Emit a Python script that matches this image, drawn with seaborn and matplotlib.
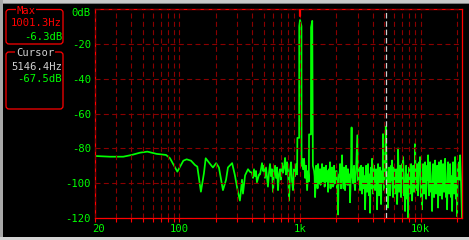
import matplotlib
matplotlib.use("Agg")
import matplotlib.pyplot as plt
import matplotlib.transforms as mtransforms
from matplotlib import font_manager
from matplotlib.patches import FancyBboxPatch, Rectangle
from matplotlib.ticker import FixedLocator, NullFormatter
import pandas as pd
import seaborn as sns

# ---------------- data ----------------
low_hz = [20, 26.6, 34.3, 40.3, 47.2, 54.3, 65, 77.6, 83.7, 96.3, 108, 115, 125, 135, 141,
          151, 160, 165.5, 180]
low_db = [-84.4, -84.8, -84.8, -83.8, -82.5, -81.9, -83.2, -83.8, -85.7, -93.4, -87.1, -86.3,
          -87.1, -89.6, -90.5, -104.9, -94.3, -85.7, -89.0]

mid_hz = [190, 202, 213, 230, 244, 253, 274, 289, 306, 318, 331, 337, 351, 371, 385, 400, 408,
          416, 424, 432, 440, 458, 467, 485, 494, 503, 513, 523, 543, 554, 565, 576, 587, 598,
          610, 622, 634, 646, 658, 671, 684, 697, 710, 724, 738, 753, 767, 782, 797, 812, 828,
          844, 860, 877, 894, 911, 929, 947]
mid_db = [-91, -88.5, -91, -104, -98, -91, -88.5, -95.5, -105, -110, -98, -106, -95.5, -92,
          -93.5, -94, -97, -92, -96, -93, -99.5, -95, -95, -88.5, -93, -90, -97, -91, -102, -94,
          -89, -96, -92, -105, -93, -90, -97, -91, -104, -95, -92, -98, -88.5, -94, -91, -85.5,
          -95, -88, -93, -110, -93, -88, -99, -104, -92, -96, -89, -95]

tone_hz = [952, 985, 987, 1001.3, 1029, 1031, 1041, 1061, 1082, 1103, 1124, 1146, 1168, 1185,
           1190, 1234, 1236, 1265, 1280, 1310, 1335, 1361, 1387, 1414, 1440, 1468]
tone_db = [-74, -74, -9.8, -6.3, -9.8, -90, -86, -92, -86, -97, -90, -104, -93, -99, -72, -72,
           -10.5, -6.8, -90, -93, -108, -90, -97, -89, -100, -92]

upper_hz = [1496, 1525, 1554, 1584, 1615, 1646, 1678, 1710, 1743, 1777, 1811, 1846, 1882, 1918,
            1955, 1993, 2031, 2070, 2110, 2150, 2192, 2234, 2277, 2321, 2366, 2411, 2458, 2505,
            2553, 2602, 2652, 2680, 2704, 2756, 2809, 2863, 2918, 2990, 3032, 3090]
upper_db = [-99, -89, -96, -91, -101, -90, -97, -105, -92, -88, -99, -91, -102, -90, -100, -93,
            -106, -118, -95, -89, -103, -84, -97, -91, -104, -90, -99, -92, -101, -111, -90, -68,
            -95, -100, -90, -104, -93, -72.5, -98, -91]

upper_fill_hz = [1323, 1348, 1374, 1400, 1427, 1454, 1482, 1511, 1540, 1569, 1600, 1630, 1662,
                 1694, 1726, 1760, 1794, 1828, 1864, 1900, 1936, 1974, 2012, 2050, 2090, 2130,
                 2171, 2213, 2256, 2299, 2343, 2389, 2435, 2481, 2529, 2578, 2628, 2730, 2782,
                 2836, 2890, 3061, 3120]
upper_fill_db = [-96, -100, -93, -103, -95, -98, -101, -94, -99, -92, -102, -96, -99, -93, -100,
                 -95, -103, -97, -94, -101, -96, -99, -93, -102, -97, -95, -100, -94, -98, -103,
                 -96, -99, -93, -101, -97, -95, -100, -97, -93, -101, -96, -99, -95]

high_hz = [3150, 3211, 3273, 3336, 3400, 3466, 3533, 3601, 3670, 3741, 3813, 3887, 3962, 4038,
           4116, 4195, 4276, 4359, 4443, 4528, 4615, 4704, 4795, 4888, 4982, 5078, 5146.4, 5276,
           5378, 5481, 5587, 5695, 5805, 5917, 6031, 6147, 6266, 6386, 6510, 6635, 6762, 6893,
           7026, 7161, 7299, 7440, 7583, 7730, 7879, 8031, 8185, 8343, 8504, 8668, 8835, 9005,
           9179, 9356, 9536, 9720, 9907, 10098, 10293, 10491, 10693, 10898, 11108, 11323,
           11541, 11764, 11990, 12221, 12457, 12697, 12942, 13190, 13445, 13704, 13968, 14237,
           14512, 14791, 15077, 15367, 15663, 15966, 16273, 16587, 16907, 17233, 17566, 17904,
           18249, 18601, 18960, 19326, 19698, 20078, 20465, 20860, 21262, 21672, 22050]
high_db = [-104, -90, -106, -91, -103, -115, -90, -105, -89, -107, -117, -91, -86, -106, -90,
           -104, -92, -115, -89, -107, -91, -112, -93, -71.8, -104, -92, -67.5, -106, -114, -91,
           -107, -90, -87, -108, -91, -106, -92, -112, -80, -105, -90, -108, -89, -85, -107,
           -116, -90, -109, -120, -91, -106, -89, -110, -90, -105, -77.5, -104, -89, -107, -88,
           -85, -108, -115, -89, -106, -88, -109, -90, -84, -107, -88, -105, -116, -89, -108,
           -87, -106, -90, -114, -88, -107, -87, -109, -89, -105, -86, -108, -115, -88, -106,
           -89, -108, -116, -88, -106, -85, -109, -119, -90, -88, -84, -100, -120]

high_fill_hz = [3180, 3242, 3304, 3368, 3433, 3499, 3567, 3635, 3705, 3777, 3850, 3924, 4000,
                4077, 4155, 4235, 4317, 4401, 4485, 4571, 4659, 4749, 4841, 4935, 5030,
                5327, 5429, 5534, 5641, 5750, 5861, 5974, 6089, 6206, 6326, 6448, 6572, 6698,
                6827, 6959, 7093, 7230, 7369, 7511, 7656, 7804, 7955, 8108, 8264, 8423, 8586,
                8751, 8920, 9092, 9267, 9446, 9628, 9813, 10002, 10195, 10392, 10592, 10796,
                11004, 11216, 11432, 11652, 11877, 12105, 12339, 12577, 12819, 13066, 13318,
                13575, 13836, 14102, 14374, 14651, 14934, 15222, 15515, 15814, 16119, 16430,
                16747, 17069, 17399, 17734, 18075, 18424, 18779, 19142, 19511, 19887, 20270,
                20661, 21059]
high_fill_db = [-97, -101, -94, -99, -96, -102, -93, -98, -100, -95, -97, -103, -94, -99, -96,
                -101, -93, -98, -102, -95, -99, -96, -100, -94, -98,
                -99, -95, -101, -94, -98, -103, -96, -100, -93, -97, -102, -95, -99, -94, -101,
                -97, -93, -100, -96, -103, -95, -98, -94, -101, -97, -99, -93, -102, -96, -98,
                -95, -100, -94, -97, -103, -96, -99, -93, -101, -95, -98, -102, -94, -97, -100,
                -96, -93, -99, -101, -95, -98, -94, -102, -97, -96, -100, -93, -99, -95, -101,
                -97, -94, -98, -103, -96, -100, -95, -99, -93, -97, -101, -96, -98]

max_freq, max_db = 1001.3, -6.3
cursor_freq, cursor_db = 5146.4, -67.5

y_ticks = [0, -20, -40, -60, -80, -100, -120]
y_labels = ["0dB", "-20", "-40", "-60", "-80", "-100", "-120"]
x_major = [20, 100, 1000, 10000]
x_labels = ["20", "100", "1k", "10k"]
x_minor = [30, 40, 50, 60, 70, 80, 90, 200, 300, 400, 500, 600, 700, 800, 900,
           2000, 3000, 4000, 5000, 6000, 7000, 8000, 9000, 20000]
f_min, f_max = 20, 22050

# ---------------- style ----------------
GREEN = "#00ff00"
RED = "#ff0000"
GRID = "#8a0000"
LIGHT = "#d0d0d0"

sns.set_theme(style="dark", rc={"axes.facecolor": "black", "figure.facecolor": "black",
                                "savefig.facecolor": "black", "lines.scale_dashes": False})
try:
    font_manager.findfont(font_manager.FontProperties(family="Liberation Sans Narrow"),
                          fallback_to_default=False)
    FONT, FS = ["Liberation Sans Narrow", "DejaVu Sans"], 9.0
except Exception:
    FONT, FS = ["DejaVu Sans Mono", "DejaVu Sans"], 7.6
plt.rcParams["font.family"] = FONT

W, H = 469, 240
fig = plt.figure(figsize=(W / 100, H / 100), dpi=100, facecolor="black")
ax = fig.add_axes([95 / W, (H - 218) / H, (462 - 95) / W, (218 - 9) / H])
ax.set_facecolor("black")
ax.set_xscale("log")

df = pd.DataFrame({
    "freq": low_hz + mid_hz + tone_hz + upper_hz + upper_fill_hz + high_hz + high_fill_hz,
    "level": low_db + mid_db + tone_db + upper_db + upper_fill_db + high_db + high_fill_db,
}).sort_values("freq")

sns.lineplot(data=df, x="freq", y="level", estimator=None, sort=False, color=GREEN,
             lw=1.25, ax=ax, zorder=2)

# max marker and cursor
ax.plot([max_freq, max_freq], [max_db + 2.0, max_db + 5.7], color=RED, lw=1.6, zorder=5)
ax.axvline(cursor_freq, color=LIGHT, lw=0.9, ls=(0, (4, 2)), zorder=5)

ax.set_xlim(f_min, f_max)
ax.set_ylim(-120, 0)
ax.set_xlabel("")
ax.set_ylabel("")

ax.xaxis.set_major_locator(FixedLocator(x_major))
ax.xaxis.set_minor_locator(FixedLocator(x_minor))
ax.xaxis.set_minor_formatter(NullFormatter())
ax.set_xticklabels(x_labels)
ax.set_yticks(y_ticks)
ax.set_yticklabels(y_labels)

ax.set_axisbelow(False)
ax.grid(True, which="both", axis="x", color=GRID, lw=0.8, ls=(0, (3.6, 2.4)), zorder=3)
ax.grid(True, which="major", axis="y", color=GRID, lw=0.8, ls=(0, (3.6, 2.4)), zorder=3)

ax.tick_params(axis="x", which="both", colors=RED, labelcolor=GREEN, length=3, width=0.8,
               direction="out", pad=1.5, labelsize=FS, bottom=True)
ax.tick_params(axis="y", which="both", length=0, labelcolor=GREEN, pad=3, labelsize=FS, left=True)
for s in ax.spines.values():
    s.set_color(RED)
    s.set_linewidth(0.9)
    s.set_visible(True)

# small label offsets like the reference
lab0 = ax.get_yticklabels()[0]
lab0.set_transform(lab0.get_transform() + mtransforms.ScaledTranslation(0, -3 / 100, fig.dpi_scale_trans))
labx = ax.get_xticklabels()[0]
labx.set_transform(labx.get_transform() + mtransforms.ScaledTranslation(4 / 100, 0, fig.dpi_scale_trans))

# ---------------- overlay in pixel coordinates ----------------
ov = fig.add_axes([0, 0, 1, 1])
ov.set_xlim(0, W)
ov.set_ylim(H, 0)
ov.axis("off")
ov.patch.set_alpha(0)

ov.add_patch(Rectangle((0, 0), W, 3, fc="#c8c8c8", ec="none"))
ov.add_patch(Rectangle((0, 3), W, 1, fc="#808080", ec="none"))
ov.add_patch(Rectangle((0, 0), 3, H, fc="#a8a8a8", ec="none"))
ov.add_patch(Rectangle((0, 237), W, 3, fc="#d4d4d4", ec="none"))

for (y0, y1) in [(9.5, 44), (52, 109)]:
    ov.add_patch(FancyBboxPatch((6, y0), 57, y1 - y0, boxstyle="round,pad=0,rounding_size=3",
                                ec=RED, fc="black", lw=0.9))

tk = dict(fontsize=FS, va="center")
ov.text(26, 10.5, "Max", color=RED, ha="center", bbox=dict(fc="black", ec="none", pad=0.6), **tk)
ov.text(62, 23.5, f"{max_freq:.1f}Hz", color=RED, ha="right", **tk)
ov.text(62, 36.5, f"{max_db:.1f}dB", color=GREEN, ha="right", **tk)
ov.text(35, 53, "Cursor", color=LIGHT, ha="center", bbox=dict(fc="black", ec="none", pad=0.6), **tk)
ov.text(62, 67.5, f"{cursor_freq:.1f}Hz", color=LIGHT, ha="right", **tk)
ov.text(62, 79, f"{cursor_db:.1f}dB", color=GREEN, ha="right", **tk)

fig.savefig("out.png", dpi=100, facecolor="black")
